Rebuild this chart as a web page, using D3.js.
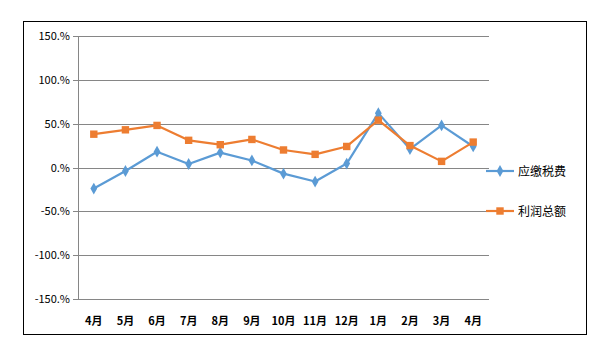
<!DOCTYPE html>
<html><head><meta charset="utf-8">
<script src="https://cdn.jsdelivr.net/npm/d3@7"></script>
<style>body{margin:0;background:#fff;}svg{display:block;}</style>
</head><body>
<svg id="c" width="610" height="359"></svg>
<script>
const categories = ["4月","5月","6月","7月","8月","9月","10月","11月","12月","1月","2月","3月","4月"];
const taxValues = [-24, -4, 18, 4, 17, 8, -7, -16, 4.5, 62, 21, 48, 24];
const profitValues = [38, 43, 48, 31, 26, 32, 20, 15, 24, 54, 25, 7, 29];
const yTicks = [150, 100, 50, 0, -50, -100, -150];
const yTickLabels = ["150.%","100.%","50.%","0.%","-50.%","-100.%","-150.%"];
const seriesNames = ["应缴税费","利润总额"];

const svg = d3.select("#c");
const font = "'Noto Sans CJK SC', 'DejaVu Sans', sans-serif";
svg.append("rect").attr("x",23.5).attr("y",21.5).attr("width",563).attr("height",313)
  .attr("fill","#fff").attr("stroke","#000").attr("stroke-width",1);

const L=78, R=489, T=36, B=299;
const x = d3.scaleBand().domain(d3.range(categories.length)).range([L,R]);
const y = d3.scaleLinear().domain([-150,150]).range([B,T]);

// gridlines
svg.append("g").selectAll("line").data(yTicks).join("line")
  .attr("x1",L-5).attr("x2",R).attr("y1",d=>Math.round(y(d))+0.5).attr("y2",d=>Math.round(y(d))+0.5)
  .attr("stroke","#868686").attr("stroke-width",1);
svg.append("line").attr("x1",L+0.5).attr("x2",L+0.5).attr("y1",T).attr("y2",B+1)
  .attr("stroke","#868686");

svg.append("g").selectAll("text").data(yTicks).join("text")
  .attr("x",70).attr("y",d=>y(d)+4).attr("text-anchor","end")
  .attr("font-family",font).attr("font-size",11).attr("fill","#000")
  .text((d,i)=>yTickLabels[i]);

svg.append("g").selectAll("text").data(categories).join("text")
  .attr("x",(d,i)=>x(i)+x.bandwidth()/2).attr("y",325).attr("text-anchor","middle")
  .attr("font-family",font).attr("font-size",11).attr("font-weight","bold").attr("fill","#000")
  .text(d=>d);

const line = d3.line().x((d,i)=>x(i)+x.bandwidth()/2).y(d=>y(d));
const colors = ["#5B9BD5","#ED7D31"];
const data = [taxValues, profitValues];
const diamond = d3.symbol().type(d3.symbolDiamond).size(40);
const square = d3.symbol().type(d3.symbolSquare).size(55);

data.forEach((vals,si)=>{
  svg.append("path").datum(vals).attr("d",line).attr("fill","none")
    .attr("stroke",colors[si]).attr("stroke-width",2.2).attr("stroke-linejoin","round");
  svg.append("g").selectAll("path").data(vals).join("path")
    .attr("transform",(d,i)=>`translate(${x(i)+x.bandwidth()/2},${y(d)})`)
    .attr("d", si===0?diamond:square).attr("fill",colors[si]);
});

// legend
const legY=[171,211];
seriesNames.forEach((n,si)=>{
  const g = svg.append("g");
  g.append("line").attr("x1",486).attr("x2",514).attr("y1",legY[si]).attr("y2",legY[si])
    .attr("stroke",colors[si]).attr("stroke-width",2.2);
  g.append("path").attr("transform",`translate(500,${legY[si]})`).attr("d",si===0?diamond:square).attr("fill",colors[si]);
  g.append("text").attr("x",518).attr("y",legY[si]+4.5).attr("font-family",font).attr("font-size",12)
    .attr("fill","#000").text(n);
});
</script>
</body></html>
